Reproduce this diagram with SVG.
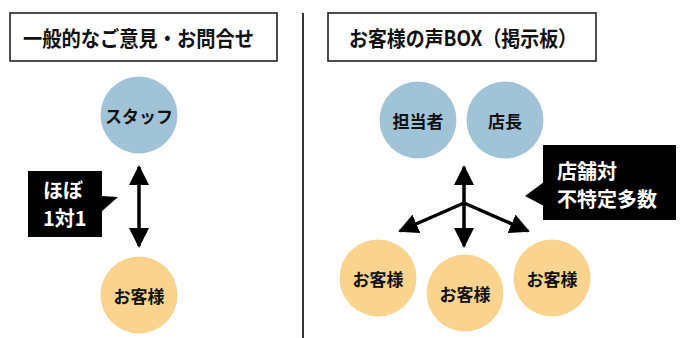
<svg xmlns="http://www.w3.org/2000/svg" width="684" height="338" viewBox="0 0 684 338">
<defs>
<style>
.hbox{fill:#fff;stroke:#222;stroke-width:1.6}
.htxt{font-family:"Noto Sans CJK JP","Noto Sans",sans-serif;font-weight:bold;font-size:21px;fill:#111;text-anchor:middle;dominant-baseline:central}
.blue{fill:#A0C3D7}
.orange{fill:#FAD48E}
.ctxt{font-family:"Noto Sans CJK JP","Noto Sans",sans-serif;font-weight:bold;font-size:17px;fill:#111;text-anchor:middle;dominant-baseline:central}
.wtxt{font-family:"Noto Sans CJK JP","Noto Sans",sans-serif;font-weight:bold;font-size:20px;fill:#fff;dominant-baseline:central}
.line{stroke:#000;stroke-width:3.5;fill:none}
</style>
<marker id="ah" viewBox="0 0 10 10" refX="9" refY="5" markerWidth="5.7" markerHeight="5.7" markerUnits="strokeWidth" orient="auto-start-reverse">
<path d="M0,0 L10,5 L0,10 z" fill="#000"/>
</marker>
</defs>
<rect width="684" height="338" fill="#fff"/>
<line x1="303" y1="13" x2="303" y2="338" stroke="#333" stroke-width="2"/>
<g id="header-left">
<rect class="hbox" x="10" y="13" width="267" height="48"/>
<text class="htxt" x="138.5" y="37" textLength="231" lengthAdjust="spacingAndGlyphs">一般的なご意見・お問合せ</text>
</g>
<g id="header-right">
<rect class="hbox" x="328" y="13" width="268" height="48"/>
<text class="htxt" x="463" y="37" textLength="228" lengthAdjust="spacingAndGlyphs">お客様の声BOX（掲示板）</text>
</g>
<g id="staff">
<circle class="blue" cx="139" cy="115" r="38.5"/>
<text class="ctxt" x="139" y="115">スタッフ</text>
</g>
<g id="customer-left">
<circle class="orange" cx="139" cy="295" r="38.5"/>
<text class="ctxt" x="139" y="295">お客様</text>
</g>
<g id="callout-left">
<rect x="28" y="171" width="74" height="66" fill="#000"/>
<polygon points="101,196 118,197 101,212" fill="#000"/>
<text class="wtxt" x="43" y="189">ほぼ</text>
<text class="wtxt" x="43" y="217">1対1</text>
</g>
<g id="tantousha">
<circle class="blue" cx="418" cy="120" r="38.5"/>
<text class="ctxt" x="418" y="120">担当者</text>
</g>
<g id="tenchou">
<circle class="blue" cx="505" cy="120" r="38.5"/>
<text class="ctxt" x="505" y="120">店長</text>
</g>
<g id="customer-1">
<circle class="orange" cx="378" cy="278" r="38.5"/>
<text class="ctxt" x="378" y="278">お客様</text>
</g>
<g id="customer-2">
<circle class="orange" cx="465" cy="293" r="38.5"/>
<text class="ctxt" x="465" y="293">お客様</text>
</g>
<g id="customer-3">
<circle class="orange" cx="552" cy="278" r="38.5"/>
<text class="ctxt" x="552" y="278">お客様</text>
</g>
<g id="callout-right">
<rect x="543" y="145" width="133" height="75" fill="#000"/>
<polygon points="544,182 525,196 544,206" fill="#000"/>
<text class="wtxt" x="557" y="170">店舗対</text>
<text class="wtxt" x="557" y="198">不特定多数</text>
</g>
<g id="connectors">
<line class="line" x1="139" y1="167" x2="139" y2="246" marker-start="url(#ah)" marker-end="url(#ah)"/>
<line class="line" x1="464" y1="203" x2="464" y2="167" marker-end="url(#ah)"/>
<line class="line" x1="464" y1="201" x2="464" y2="246" marker-end="url(#ah)"/>
<line class="line" x1="464" y1="203" x2="400" y2="231" marker-end="url(#ah)"/>
<line class="line" x1="464" y1="203" x2="528" y2="231" marker-end="url(#ah)"/>
</g>
</svg>
